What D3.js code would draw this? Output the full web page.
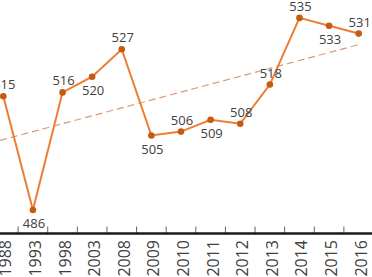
<!DOCTYPE html>
<html>
<head>
<meta charset="utf-8">
<script src="https://cdn.jsdelivr.net/npm/d3@7"></script>
<style>
  body { margin: 0; background: #fff; }
  svg { display: block; font-family: "Open Sans", "Liberation Sans", sans-serif; }
</style>
</head>
<body>
<div id="chart"></div>
<script>
  const years = ["1988", "1993", "1998", "2003", "2008", "2009", "2010", "2011", "2012", "2013", "2014", "2015", "2016"];
  const scores = [515, 486, 516, 520, 527, 505, 506, 509, 508, 518, 535, 533, 531];
  // where each data label sits: above or below its point
  const labelSide = ["up", "down", "up", "down", "up", "down", "up", "down", "up", "up", "up", "down", "up"];

  const W = 372, H = 277;
  const axisY = 233.5;

  const svg = d3.select("#chart").append("svg").attr("width", W).attr("height", H);

  const x = d3.scaleBand().domain(years).range([-11.5, 373.5]);
  const y = d3.scaleLinear().domain([480, 540]).range([axisY, -1.7]);
  const cx = d => x(d) + x.bandwidth() / 2;

  // linear trend over the category index
  const n = scores.length;
  const mi = (n - 1) / 2;
  const mv = d3.mean(scores);
  const slope = d3.sum(scores, (v, i) => (i - mi) * (v - mv)) / d3.sum(scores, (v, i) => (i - mi) ** 2);
  const trendAt = i => mv + slope * (i - mi);
  const step = x.step();
  const i0 = (0 - cx(years[0])) / step;

  svg.append("line")
    .attr("x1", 0).attr("y1", y(trendAt(i0)))
    .attr("x2", cx(years[n - 1])).attr("y2", y(trendAt(n - 1)))
    .attr("stroke", "#D99A78")
    .attr("stroke-width", 1.2)
    .attr("stroke-dasharray", "7,4");

  const pts = years.map((yr, i) => ({ yr, v: scores[i], side: labelSide[i] }));

  svg.append("path")
    .datum(pts)
    .attr("fill", "none")
    .attr("stroke", "#ED7D31")
    .attr("stroke-width", 2)
    .attr("d", d3.line().x(d => cx(d.yr)).y(d => y(d.v)));

  svg.selectAll("circle.pt")
    .data(pts)
    .join("circle")
    .attr("class", "pt")
    .attr("cx", d => cx(d.yr))
    .attr("cy", d => y(d.v))
    .attr("r", 3.3)
    .attr("fill", "#C55A11");

  svg.selectAll("text.lbl")
    .data(pts)
    .join("text")
    .attr("class", "lbl")
    .attr("x", d => cx(d.yr) + 1)
    .attr("y", d => y(d.v) + (d.side === "up" ? -12 : 13))
    .attr("text-anchor", "middle")
    .attr("dominant-baseline", "central")
    .attr("fill", "#404040")
    .attr("font-size", 13)
    .text(d => d.v);

  // x axis: ticks between categories, pointing up
  const ax = svg.append("g").attr("transform", `translate(0,${axisY})`);
  ax.selectAll("line.tk")
    .data(years)
    .join("line")
    .attr("class", "tk")
    .attr("x1", (d, i) => x(years[0]) + (i + 1) * step)
    .attr("x2", (d, i) => x(years[0]) + (i + 1) * step)
    .attr("y1", 0).attr("y2", -7)
    .attr("stroke", "#666")
    .attr("stroke-width", 1);

  ax.append("line")
    .attr("x1", 0).attr("x2", W)
    .attr("stroke", "#1a1a1a")
    .attr("stroke-width", 2.5);

  ax.selectAll("text.tl")
    .data(years)
    .join("text")
    .attr("class", "tl")
    .attr("transform", d => `translate(${cx(d) + 8},6.5) rotate(-90)`)
    .attr("text-anchor", "end")
    .attr("fill", "#404040")
    .attr("font-size", 16)
    .text(d => d);
</script>
</body>
</html>
